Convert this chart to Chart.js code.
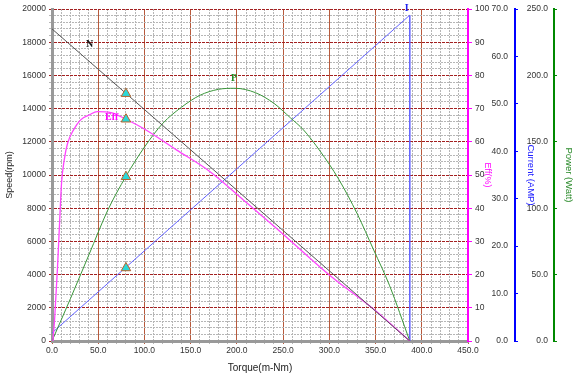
<!DOCTYPE html>
<html>
<head>
<meta charset="utf-8">
<script src="https://cdn.jsdelivr.net/npm/chart.js@4.4.0/dist/chart.umd.min.js"></script>
<style>
  html, body { margin: 0; padding: 0; background: #fff; }
  #wrap { width: 580px; height: 378px; }
</style>
</head>
<body>
<div id="wrap"><canvas id="motorChart"></canvas></div>
<script>
// Motor performance curve: torque (mNm) against speed, efficiency, current, power

const speedTorque = [0, 387];
const speedRpm    = [18800, 0];

const effTorque = [1, 3, 6, 8.5, 10.3, 13.2, 16.8, 23.3, 31, 40.4, 49, 63.8, 80, 99, 135, 171, 207, 243, 300, 350, 387];
const effPct    = [0, 7.3, 22.4, 37.4, 47.5, 54.5, 59.5, 63.6, 66.6, 68.1, 69.1, 68.8, 66.8, 64, 57.5, 51, 42.5, 33.9, 19.9, 9.1, 0];

const currentTorque = [0, 387, 387];
const currentAmp    = [1.7, 68.7, 0];

const powerTorque = [0, 20, 40, 60, 80, 100, 120, 140, 160, 180, 198, 220, 240, 258, 272, 290, 310, 330, 348, 365, 387];
const powerWatt   = [0, 32, 65, 98, 124, 146, 164, 176, 185, 189.5, 190.3, 187, 179, 168, 159, 143, 122, 96, 68.5, 42, 0];

// rated point (the cyan triangles)
const ratedTorque  = 80;
const ratedSpeed   = 14900;
const ratedEff     = 66.8;
const ratedCurrent = 15.4;
const ratedPower   = 123.7;

// curve tags
const tagText   = ['N', 'Eff', 'P', 'I'];
const tagTorque = [40.7, 64.6, 197, 383.8];
const tagValue  = [17890, 67.2, 198, 70.2];
const tagAxis   = ['y', 'yEff', 'yPow', 'yCur'];

const pts = (xs, ys) => xs.map((x, i) => ({ x, y: ys[i] }));
const isMajor = (c, step) => !!c.tick && Math.abs(c.tick.value / step - Math.round(c.tick.value / step)) < 1e-6;

const TICK_FONT = { family: '"Liberation Sans", Arial, sans-serif', size: 8.5 };
const TICK_COLOR = '#333';

function marker(axis, value) {
  return {
    data: [{ x: ratedTorque, y: value }],
    yAxisID: axis,
    showLine: false,
    pointStyle: 'triangle',
    pointRadius: 5.5,
    backgroundColor: '#2ad8d8',
    borderColor: '#b8622a',
    borderWidth: 1,
    order: 0,
  };
}

const curveTags = {
  id: 'curveTags',
  afterDatasetsDraw(chart) {
    const { ctx, scales } = chart;
    const colors = ['#111', '#ff00ff', '#228b22', '#2222ee'];
    ctx.save();
    ctx.font = 'bold 10px "Liberation Serif", "DejaVu Serif", serif';
    ctx.textAlign = 'center';
    ctx.textBaseline = 'middle';
    tagText.forEach((t, i) => {
      ctx.fillStyle = colors[i];
      ctx.fillText(t, scales.x.getPixelForValue(tagTorque[i]), scales[tagAxis[i]].getPixelForValue(tagValue[i]));
    });
    ctx.restore();
  }
};

const minorGrid = '#b6b6b6';

new Chart(document.getElementById('motorChart'), {
  type: 'line',
  data: {
    datasets: [
      marker('y', ratedSpeed),
      marker('yEff', ratedEff),
      marker('yCur', ratedCurrent),
      marker('yPow', ratedPower),
      {
        label: 'N', data: pts(speedTorque, speedRpm), yAxisID: 'y',
        borderColor: '#555', borderWidth: 1, pointRadius: 0, order: 1,
      },
      {
        label: 'Eff', data: pts(effTorque, effPct), yAxisID: 'yEff',
        borderColor: '#ff44ff', borderWidth: 1.3, pointRadius: 0, order: 1,
        cubicInterpolationMode: 'monotone',
      },
      {
        label: 'P', data: pts(powerTorque, powerWatt), yAxisID: 'yPow',
        borderColor: '#3a963a', borderWidth: 1, pointRadius: 0, order: 1,
        cubicInterpolationMode: 'monotone',
      },
      {
        label: 'I', data: pts(currentTorque, currentAmp), yAxisID: 'yCur',
        borderColor: '#6464ff', borderWidth: 1, pointRadius: 0, order: 1,
      },
    ]
  },
  options: {
    responsive: true,
    maintainAspectRatio: false,
    animation: false,
    layout: { padding: { top: 9, right: 2, left: 0, bottom: 0 } },
    plugins: { legend: { display: false }, tooltip: { enabled: false } },
    scales: {
      x: {
        type: 'linear', min: 0, max: 450,
        afterFit: s => { s.height = 37; },
        ticks: {
          stepSize: 10, autoSkip: false, maxRotation: 0, color: TICK_COLOR, font: TICK_FONT, padding: 2,
          callback: v => Math.abs(v / 50 - Math.round(v / 50)) < 1e-6 ? Math.round(v).toFixed(1) : '',
        },
        grid: {
          tickLength: 3,
          color: c => isMajor(c, 50) ? '#b85a3c' : minorGrid,
        },
        border: { color: '#999', width: 3, dash: c => isMajor(c, 50) ? [] : [2, 1] },
        title: { display: true, text: 'Torque(m-Nm)', color: '#222', font: { family: '"Liberation Sans", Arial', size: 10 }, padding: { top: 0, bottom: 4 } },
      },
      y: {
        position: 'left', min: 0, max: 20000,
        afterFit: s => { s.width = 52; },
        ticks: {
          stepSize: 400, autoSkip: false, color: TICK_COLOR, font: TICK_FONT, padding: 3,
          callback: v => Math.round(v) % 2000 === 0 ? Math.round(v) : '',
        },
        grid: {
          tickLength: 3,
          color: c => isMajor(c, 2000) ? '#a32020' : minorGrid,
        },
        border: { color: '#999', width: 3, dash: c => isMajor(c, 2000) ? [3, 1] : [2, 1] },
        title: { display: true, text: 'Speed(rpm)', color: '#222', font: { family: '"Liberation Sans", Arial', size: 9 }, padding: { top: 4, bottom: 0 } },
      },
      yEff: {
        position: 'right', min: 0, max: 100,
        afterFit: s => { s.width = 47; },
        ticks: { stepSize: 10, color: TICK_COLOR, font: TICK_FONT, padding: 3 },
        grid: { drawOnChartArea: false, tickLength: 4, color: '#ff00ff' },
        border: { color: '#ff00ff', width: 2 },
        title: { display: true, text: 'Eff(%)', color: '#ff00ff', font: { family: '"Liberation Sans", Arial', size: 9 }, padding: { top: 22, bottom: 0 } },
      },
      yCur: {
        position: 'right', min: 0, max: 70,
        afterFit: s => { s.width = 39; },
        ticks: { stepSize: 10, mirror: true, padding: -7, color: TICK_COLOR, font: TICK_FONT, callback: v => v.toFixed(1) },
        grid: { drawOnChartArea: false, tickLength: 3, color: '#0000ff' },
        border: { color: '#0000ff', width: 2 },
        title: { display: true, text: 'Current (AMP)', color: '#2020ff', font: { family: '"Liberation Sans", Arial', size: 9.5 }, padding: { top: 18, bottom: 0 } },
      },
      yPow: {
        position: 'right', min: 0, max: 250,
        afterFit: s => { s.width = 24; },
        ticks: { stepSize: 50, mirror: true, padding: -6, color: TICK_COLOR, font: TICK_FONT, callback: v => v.toFixed(1) },
        grid: { drawOnChartArea: false, tickLength: 3, color: '#008800' },
        border: { color: '#008800', width: 2 },
        title: { display: true, text: 'Power (Watt)', color: '#2a8a2a', font: { family: '"Liberation Sans", Arial', size: 9.5 }, padding: { top: 4, bottom: 0 } },
      },
    }
  },
  plugins: [curveTags]
});
</script>
</body>
</html>
